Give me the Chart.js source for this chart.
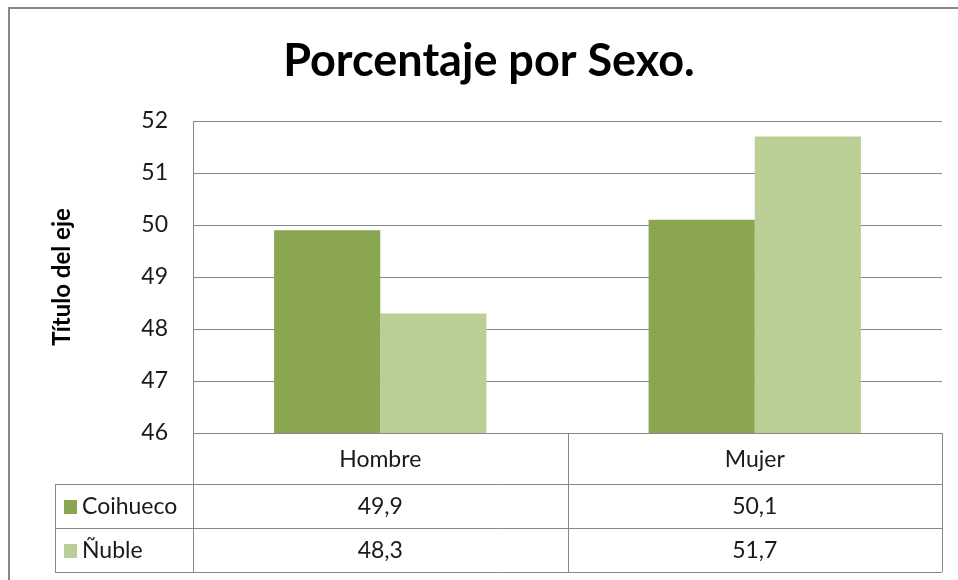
<!DOCTYPE html>
<html>
<head>
<meta charset="utf-8">
<script src="https://cdn.jsdelivr.net/npm/chart.js@4/dist/chart.umd.min.js"></script>
<style>
    html, body { margin: 0; padding: 0; background: #fff; }
    #chart { display: block; }
</style>
</head>
<body>
<canvas id="chart" width="958" height="580"></canvas>
<script>
    const categories = ['Hombre', 'Mujer'];
    const coihueco = [49.9, 50.1];
    const nuble = [48.3, 51.7];
    const seriesNames = ['Coihueco', 'Ñuble'];
    const seriesColors = ['#8aa650', '#b9cf96'];
    const yTicks = { min: 46, max: 52, step: 1 };

    const lineColor = '#888888';
    const textColor = '#1a1a1a';
    const fontFamily = 'Lato, "Open Sans", sans-serif';

    function fmt(v) {
        return v.toFixed(1).replace('.', ',');
    }

    // outer frame of the chart object
    const framePlugin = {
        id: 'frame',
        beforeDraw(chart) {
            const c = chart.ctx;
            c.save();
            c.fillStyle = '#fff';
            c.fillRect(0, 0, chart.width, chart.height);
            c.strokeStyle = lineColor;
            c.lineWidth = 2;
            c.strokeRect(9, 8, chart.width + 20, chart.height + 20);
            c.restore();
        }
    };

    // data table under the plot, Excel style
    const tablePlugin = {
        id: 'dataTable',
        afterDraw(chart) {
            const c = chart.ctx;
            const area = chart.chartArea;
            const x = chart.scales.x;
            const top = area.bottom;
            const headH = 51;
            const rowH = 44;
            const legendLeft = 55;
            const rows = [coihueco, nuble];
            const bottom = top + headH + rowH * rows.length;
            const half = (x.getPixelForValue(1) - x.getPixelForValue(0)) / 2;

            c.save();
            c.strokeStyle = lineColor;
            c.lineWidth = 1;
            c.beginPath();
            // horizontal lines
            c.moveTo(area.left, top + 0.5);
            c.lineTo(area.right, top + 0.5);
            for (let r = 0; r <= rows.length; r++) {
                const y = Math.round(top + headH + rowH * r) + 0.5;
                c.moveTo(legendLeft, y);
                c.lineTo(area.right, y);
            }
            // vertical lines
            c.moveTo(Math.round(area.left) + 0.5, top);
            c.lineTo(Math.round(area.left) + 0.5, bottom);
            categories.forEach((cat, i) => {
                const xr = Math.round(x.getPixelForValue(i) + half) + 0.5;
                c.moveTo(xr, top);
                c.lineTo(xr, bottom);
            });
            c.moveTo(legendLeft + 0.5, top + headH);
            c.lineTo(legendLeft + 0.5, bottom);
            c.stroke();

            c.font = '23px ' + fontFamily;
            c.fillStyle = textColor;
            c.textBaseline = 'middle';
            c.textAlign = 'center';
            categories.forEach((cat, i) => {
                c.fillText(cat, x.getPixelForValue(i), top + headH / 2 + 1);
            });
            rows.forEach((vals, r) => {
                const yc = top + headH + rowH * r + rowH / 2 + 1;
                vals.forEach((v, i) => {
                    c.fillText(fmt(v), x.getPixelForValue(i), yc);
                });
                c.fillStyle = seriesColors[r];
                c.fillRect(64, Math.round(yc - 7), 13, 14);
                c.fillStyle = textColor;
                c.textAlign = 'left';
                c.fillText(seriesNames[r], 82, yc);
                c.textAlign = 'center';
            });
            c.restore();
        }
    };

    const ctx = document.getElementById('chart');

    new Chart(ctx, {
        type: 'bar',
        data: {
            labels: categories,
            datasets: [
                { label: seriesNames[0], data: coihueco, backgroundColor: seriesColors[0] },
                { label: seriesNames[1], data: nuble, backgroundColor: seriesColors[1] }
            ]
        },
        options: {
            responsive: false,
            animation: false,
            layout: {
                padding: { top: 8, right: 16, bottom: 147, left: 36 }
            },
            datasets: {
                bar: {
                    barPercentage: 1,
                    categoryPercentage: 0.567,
                    borderWidth: 0
                }
            },
            scales: {
                x: {
                    display: false
                },
                y: {
                    min: yTicks.min,
                    max: yTicks.max,
                    afterFit(scale) {
                        scale.width = 157;
                    },
                    ticks: {
                        stepSize: yTicks.step,
                        padding: 25,
                        color: textColor,
                        font: { family: fontFamily, size: 23 }
                    },
                    grid: {
                        color: lineColor,
                        drawTicks: false
                    },
                    border: {
                        color: lineColor
                    },
                    title: {
                        display: true,
                        text: 'Título del eje',
                        color: '#000',
                        padding: { top: 12, bottom: 0 },
                        font: { family: fontFamily, size: 24, weight: 'bold' }
                    }
                }
            },
            plugins: {
                legend: { display: false },
                tooltip: { enabled: false },
                title: {
                    display: true,
                    text: 'Porcentaje por Sexo.',
                    color: '#000',
                    padding: { top: 26, bottom: 33 },
                    font: { family: fontFamily, size: 45, weight: 'bold' }
                }
            }
        },
        plugins: [framePlugin, tablePlugin]
    });
</script>
</body>
</html>
